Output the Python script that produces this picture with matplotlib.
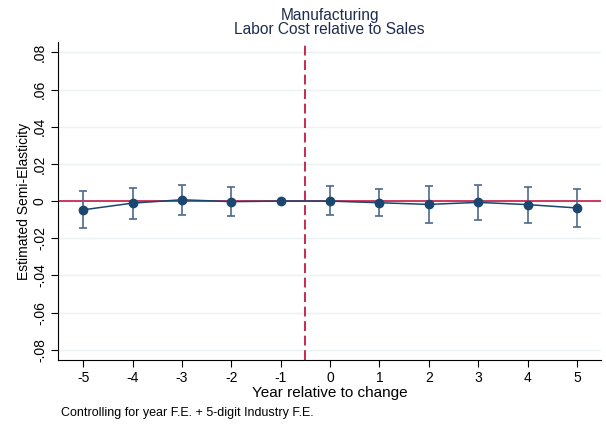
import numpy as np
import matplotlib
matplotlib.use("Agg")
import matplotlib.pyplot as plt

# event-study estimates
years = [-5, -4, -3, -2, -1, 0, 1, 2, 3, 4, 5]
coef = [-0.0047, -0.0011, 0.0007, -0.0003, 0.0, 0.0, -0.0009, -0.0018, -0.0007, -0.0019, -0.0037]
ci_low = [-0.0146, -0.0098, -0.0076, -0.0078, 0.0, -0.0076, -0.0082, -0.0117, -0.0101, -0.0117, -0.0140]
ci_high = [0.0052, 0.0073, 0.0089, 0.0075, 0.0, 0.0080, 0.0066, 0.0082, 0.0085, 0.0075, 0.0064]
ytick_vals = [-0.08, -0.06, -0.04, -0.02, 0, 0.02, 0.04, 0.06, 0.08]
ytick_labels = ['-.08', '-.06', '-.04', '-.02', '0', '.02', '.04', '.06', '.08']

plt.rcParams.update({
    "font.family": "Liberation Sans",
    "font.size": 10,
})

navy = '#1a476f'
bar_col = '#4d6a8c'
red = '#c10534'

fig = plt.figure(figsize=(6.06, 4.26), dpi=100)
ax = fig.add_axes([0.0957, 0.155, 0.8963, 0.746])

yrs = np.array(years)
c = np.array(coef)
lo = np.array(ci_low)
hi = np.array(ci_high)
has_ci = yrs != -1  # reference year, no interval

ax.axhline(0, color=red, lw=1.1, zorder=2)
ax.axvline(-0.5, color=red, lw=1.2, ls=(0, (5.9, 2.8)), zorder=2)
ax.errorbar(yrs[has_ci], c[has_ci], yerr=[c[has_ci] - lo[has_ci], hi[has_ci] - c[has_ci]],
            fmt='none', ecolor=bar_col, elinewidth=1.2, capsize=3, capthick=1.2, zorder=3)
ax.plot(yrs, c, color=navy, lw=1.1, marker='o', markersize=6, zorder=4)

ax.set_xlim(-5.51, 5.49)
ax.set_ylim(-0.0855, 0.0855)
ax.set_xticks(years)
ax.set_xticklabels([str(y) for y in years])
ax.set_yticks(ytick_vals)
ax.set_yticklabels(ytick_labels, rotation=90, va='center')
ax.grid(axis='y', color='#eaf2f3', lw=1)
ax.set_axisbelow(True)
for s in ['top', 'right']:
    ax.spines[s].set_visible(False)
ax.tick_params(length=5, width=0.8, labelsize=10, pad=3)

ax.set_xlabel('Year relative to change', fontsize=11, labelpad=1)
ax.set_ylabel('Estimated Semi-Elasticity', fontsize=10)
ax.yaxis.set_label_coords(-0.05, 0.5)
ax.set_title('Manufacturing\nLabor Cost relative to Sales', fontsize=11.2, color='#1e2d4f',
             linespacing=0.9, pad=6)
fig.text(0.1007, 0.0305, 'Controlling for year F.E. + 5-digit Industry F.E.', fontsize=9,
         va='center')

fig.savefig('out.png', dpi=100)
